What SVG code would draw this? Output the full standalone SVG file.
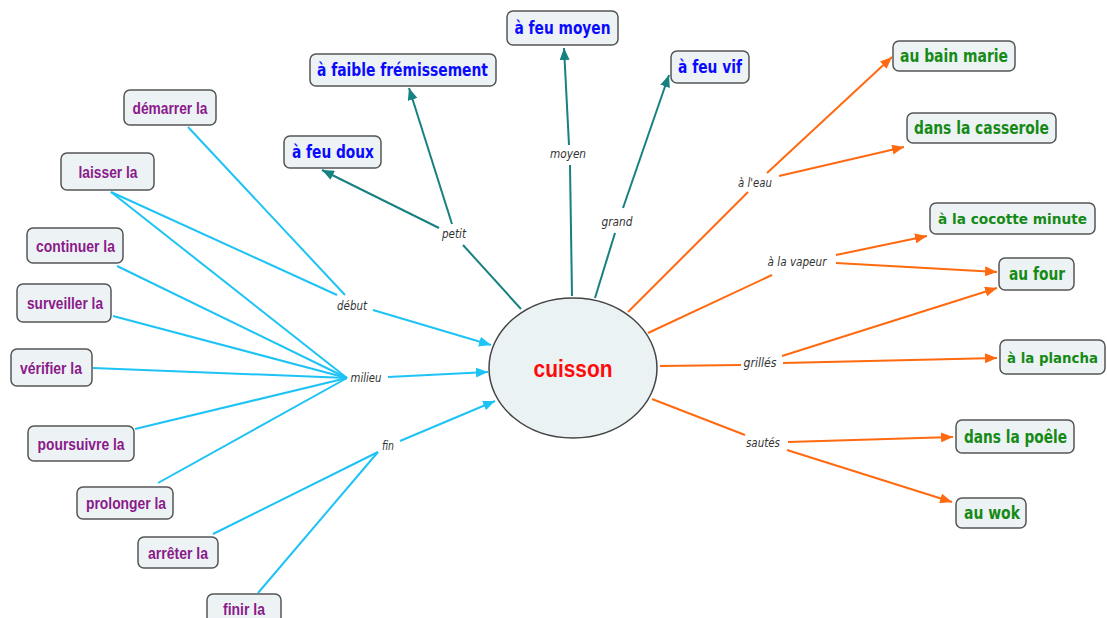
<svg xmlns="http://www.w3.org/2000/svg" width="1107" height="618" viewBox="0 0 1107 618">
<style>
.box{fill:#edf3f5;stroke:#555;stroke-width:1.5}
.pt{font-family:"Liberation Sans",Arial,sans-serif;font-weight:bold;font-size:17px;fill:#8a1a8a;text-anchor:middle}
.bt{font-family:"DejaVu Sans",Verdana,sans-serif;font-weight:bold;font-size:17px;fill:#0a0aff;text-anchor:middle}
.gt{font-family:"DejaVu Sans",Verdana,sans-serif;font-weight:bold;font-size:17px;fill:#168a16;text-anchor:middle}
.gs{font-size:14.5px}
.lb{font-family:"DejaVu Sans",Verdana,sans-serif;font-style:italic;font-size:12px;fill:#333;text-anchor:middle}
.c{fill:none;stroke:#1ec3f5;stroke-width:2}
.t{fill:none;stroke:#178080;stroke-width:2}
.o{fill:none;stroke:#ff6a10;stroke-width:2}
</style>
<defs>
<marker id="ac" markerUnits="userSpaceOnUse" markerWidth="12" markerHeight="10" refX="12" refY="5" orient="auto"><path d="M0,0 L12,5 L0,10 z" fill="#1ec3f5"/></marker>
<marker id="at" markerUnits="userSpaceOnUse" markerWidth="12" markerHeight="10" refX="12" refY="5" orient="auto"><path d="M0,0 L12,5 L0,10 z" fill="#178080"/></marker>
<marker id="ao" markerUnits="userSpaceOnUse" markerWidth="12" markerHeight="10" refX="12" refY="5" orient="auto"><path d="M0,0 L12,5 L0,10 z" fill="#ff6a10"/></marker>
</defs>
<rect width="1107" height="618" fill="#fff"/>
<g id="connectors">
<path class="t" d="M521,309 L463,245"/>
<path class="t" d="M439,228 L322,170" marker-end="url(#at)"/>
<path class="t" d="M452,224 L409,88" marker-end="url(#at)"/>
<path class="t" d="M572,296 L570,165"/>
<path class="t" d="M569,145 L564,48" marker-end="url(#at)"/>
<path class="t" d="M595,298 L615,233"/>
<path class="t" d="M623,208 L669,75" marker-end="url(#at)"/>
<path class="o" d="M628,312 L748,192"/>
<path class="o" d="M767,173 L892,57" marker-end="url(#ao)"/>
<path class="o" d="M779,176 L904,147" marker-end="url(#ao)"/>
<path class="o" d="M648,333 L772,275"/>
<path class="o" d="M836,255 L927,236" marker-end="url(#ao)"/>
<path class="o" d="M836,263 L997,272" marker-end="url(#ao)"/>
<path class="o" d="M660,366 L741,365"/>
<path class="o" d="M782,356 L997,288" marker-end="url(#ao)"/>
<path class="o" d="M783,363 L997,358" marker-end="url(#ao)"/>
<path class="o" d="M652,399 L745,435"/>
<path class="o" d="M788,442 L953,437" marker-end="url(#ao)"/>
<path class="o" d="M787,450 L952,502" marker-end="url(#ao)"/>
<path class="c" d="M188,127 L345,295"/>
<path class="c" d="M111,192 L337,295"/>
<path class="c" d="M373,310 L491,345" marker-end="url(#ac)"/>
<path class="c" d="M111,192 L347,378"/>
<path class="c" d="M117,266 L347,378"/>
<path class="c" d="M113,316 L347,378"/>
<path class="c" d="M93,368 L347,378"/>
<path class="c" d="M135,429 L347,378"/>
<path class="c" d="M158,483 L347,378"/>
<path class="c" d="M388,377 L488,372" marker-end="url(#ac)"/>
<path class="c" d="M213,534 L378,452"/>
<path class="c" d="M258,593 L378,452"/>
<path class="c" d="M400,441 L495,401" marker-end="url(#ac)"/>
<text class="lb" x="454" y="238" textLength="24" lengthAdjust="spacingAndGlyphs">petit</text>
<text class="lb" x="568" y="158" textLength="36" lengthAdjust="spacingAndGlyphs">moyen</text>
<text class="lb" x="617" y="226" textLength="31" lengthAdjust="spacingAndGlyphs">grand</text>
<text class="lb" x="755" y="187" textLength="34" lengthAdjust="spacingAndGlyphs">à l'eau</text>
<text class="lb" x="797" y="266" textLength="59" lengthAdjust="spacingAndGlyphs">à la vapeur</text>
<text class="lb" x="760" y="367" textLength="33" lengthAdjust="spacingAndGlyphs">grillés</text>
<text class="lb" x="763" y="447" textLength="34" lengthAdjust="spacingAndGlyphs">sautés</text>
<text class="lb" x="352" y="310" textLength="30" lengthAdjust="spacingAndGlyphs">début</text>
<text class="lb" x="366" y="382" textLength="31" lengthAdjust="spacingAndGlyphs">milieu</text>
<text class="lb" x="388" y="450" textLength="12" lengthAdjust="spacingAndGlyphs">fin</text>
</g>
<g id="cuisson">
<ellipse cx="573" cy="368" rx="84" ry="70" fill="#ebf2f4" stroke="#444" stroke-width="1.5"/>
<text x="573" y="377" font-family="Liberation Sans, Arial, sans-serif" font-weight="bold" font-size="23" fill="#ff0a0a" text-anchor="middle" textLength="79" lengthAdjust="spacingAndGlyphs">cuisson</text>
</g>
<g id="feu-moyen"><rect class="box" x="507" y="11" width="111" height="34" rx="6"/><text class="bt" x="562.5" y="34" textLength="96" lengthAdjust="spacingAndGlyphs">à feu moyen</text></g>
<g id="faible"><rect class="box" x="310" y="54" width="186" height="32" rx="6"/><text class="bt" x="402.5" y="76" textLength="171" lengthAdjust="spacingAndGlyphs">à faible frémissement</text></g>
<g id="feu-doux"><rect class="box" x="284" y="136" width="97" height="32" rx="6"/><text class="bt" x="333" y="158" textLength="82" lengthAdjust="spacingAndGlyphs">à feu doux</text></g>
<g id="feu-vif"><rect class="box" x="671" y="51" width="78" height="32" rx="6"/><text class="bt" x="710" y="73" textLength="64" lengthAdjust="spacingAndGlyphs">à feu vif</text></g>
<g id="bain-marie"><rect class="box" x="893" y="41" width="122" height="30" rx="6"/><text class="gt" x="954" y="62" textLength="108" lengthAdjust="spacingAndGlyphs">au bain marie</text></g>
<g id="casserole"><rect class="box" x="907" y="113" width="149" height="30" rx="6"/><text class="gt" x="981.5" y="134" textLength="135" lengthAdjust="spacingAndGlyphs">dans la casserole</text></g>
<g id="cocotte"><rect class="box" x="930" y="203" width="165" height="31" rx="6"/><text class="gt gs" x="1012.5" y="224" textLength="149" lengthAdjust="spacingAndGlyphs">à la cocotte minute</text></g>
<g id="four"><rect class="box" x="999" y="258" width="75" height="32" rx="6"/><text class="gt" x="1037" y="280" textLength="56" lengthAdjust="spacingAndGlyphs">au four</text></g>
<g id="plancha"><rect class="box" x="1000" y="340" width="105" height="34" rx="6"/><text class="gt" x="1052.5" y="362.5" style="font-size:14px" textLength="91" lengthAdjust="spacingAndGlyphs">à la plancha</text></g>
<g id="poele"><rect class="box" x="956" y="420" width="118" height="33" rx="6"/><text class="gt" x="1015.5" y="442.5" textLength="103" lengthAdjust="spacingAndGlyphs">dans la poêle</text></g>
<g id="wok"><rect class="box" x="956" y="498" width="70" height="30" rx="6"/><text class="gt" x="992" y="519" textLength="56" lengthAdjust="spacingAndGlyphs">au wok</text></g>
<g id="demarrer"><rect class="box" x="124" y="90" width="92" height="35" rx="6"/><text class="pt" x="170" y="113.5" textLength="75" lengthAdjust="spacingAndGlyphs">démarrer la</text></g>
<g id="laisser"><rect class="box" x="61" y="153" width="93" height="37" rx="6"/><text class="pt" x="108" y="177.5" textLength="59" lengthAdjust="spacingAndGlyphs">laisser la</text></g>
<g id="continuer"><rect class="box" x="27" y="228" width="96" height="35" rx="6"/><text class="pt" x="75.5" y="251.5" textLength="79" lengthAdjust="spacingAndGlyphs">continuer la</text></g>
<g id="surveiller"><rect class="box" x="17" y="284" width="94" height="38" rx="6"/><text class="pt" x="65" y="309" textLength="76" lengthAdjust="spacingAndGlyphs">surveiller la</text></g>
<g id="verifier"><rect class="box" x="11" y="349" width="81" height="37" rx="6"/><text class="pt" x="51" y="373.5" textLength="62" lengthAdjust="spacingAndGlyphs">vérifier la</text></g>
<g id="poursuivre"><rect class="box" x="28" y="426" width="106" height="35" rx="6"/><text class="pt" x="81" y="449.5" textLength="87" lengthAdjust="spacingAndGlyphs">poursuivre la</text></g>
<g id="prolonger"><rect class="box" x="77" y="487" width="96" height="32" rx="6"/><text class="pt" x="126" y="509" textLength="80" lengthAdjust="spacingAndGlyphs">prolonger la</text></g>
<g id="arreter"><rect class="box" x="138" y="537" width="80" height="31" rx="6"/><text class="pt" x="178" y="558.5" textLength="60" lengthAdjust="spacingAndGlyphs">arrêter la</text></g>
<g id="finir"><rect class="box" x="207" y="594" width="74" height="34" rx="6"/><text class="pt" x="244" y="615" textLength="42" lengthAdjust="spacingAndGlyphs">finir la</text></g>
</svg>
